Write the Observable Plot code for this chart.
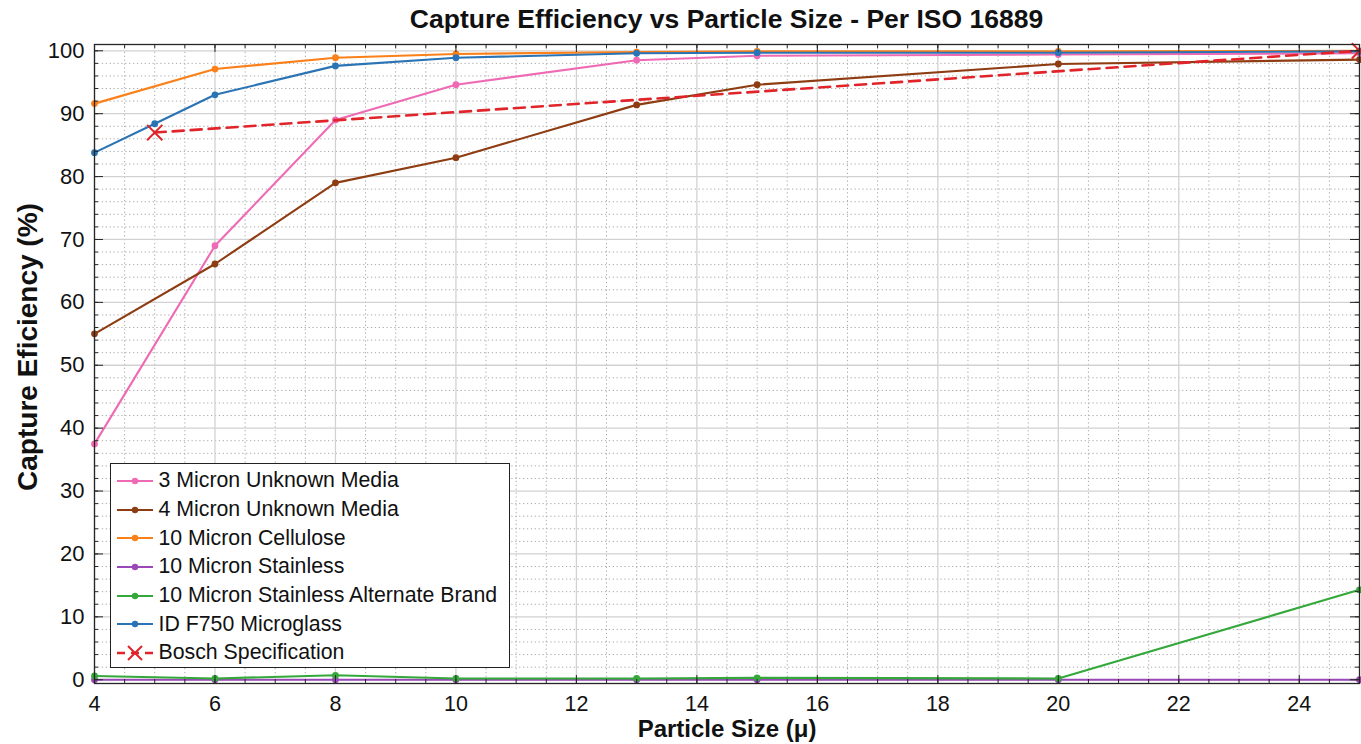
<!DOCTYPE html>
<html><head><meta charset="utf-8">
<script src="https://cdn.jsdelivr.net/npm/d3@7"></script>
<script src="https://cdn.jsdelivr.net/npm/@observablehq/plot@0.6"></script>
<style>
body{margin:0;background:#fff;font-family:"Liberation Sans",Arial,Helvetica,sans-serif;}
#wrap{position:relative;width:1361px;height:744px;overflow:hidden;background:#fff}
#title{position:absolute;left:94px;width:1265px;top:4px;text-align:center;font-weight:bold;font-size:26.5px;color:#111;white-space:nowrap}
#chart{position:absolute;left:0;top:36px}
#ylabel{position:absolute;left:28px;top:347px;transform:translate(-50%,-50%) rotate(-90deg);font-weight:bold;font-size:28px;color:#111;white-space:nowrap}
#legend{position:absolute;left:110px;top:463px;width:400px;height:205px;box-sizing:border-box;border:1.5px solid #222;background:#fff;padding-top:2.5px}
.row{display:flex;align-items:center;height:28.7px}
.row svg{margin-left:5.5px;flex:none}
.row span{margin-left:6px;font-size:21.3px;color:#111;white-space:nowrap}
</style></head>
<body>
<div id="wrap">
  <div id="title"></div>
  <div id="chart"></div>
  <div id="ylabel"></div>
  <div id="legend"></div>
</div>
<script>
// ---- data ----
const titleText = "Capture Efficiency vs Particle Size - Per ISO 16889";
const xLabel = "Particle Size (\u03bc)";
const yLabel = "Capture Eficiency (%)";
const xTicks = [4, 6, 8, 10, 12, 14, 16, 18, 20, 22, 24];
const yTicks = [0, 10, 20, 30, 40, 50, 60, 70, 80, 90, 100];

const sizes = [4, 6, 8, 10, 13, 15, 20, 25];
const micron3Unknown = [37.5, 69.0, 89.0, 94.6, 98.5, 99.2, 99.4, 99.6];
const micron4Unknown = [55.0, 66.1, 79.0, 83.0, 91.4, 94.6, 97.9, 98.6];
const micron10Cellulose = [91.6, 97.1, 98.9, 99.5, 99.8, 99.9, 99.9, 100.0];
const micron10Stainless = [0, 0, 0, 0, 0, 0, 0, 0];
const micron10StainlessAlt = [0.6, 0.2, 0.7, 0.2, 0.2, 0.3, 0.2, 14.3];
const microglassSizes = [4, 5, 6, 8, 10, 13, 15, 20, 25];
const microglassF750 = [83.8, 88.4, 93.0, 97.6, 98.9, 99.6, 99.7, 99.7, 99.9];
const boschSizes = [5, 25];
const boschSpec = [87.0, 100.0];

const seriesNames = ["3 Micron Unknown Media", "4 Micron Unknown Media", "10 Micron Cellulose",
  "10 Micron Stainless", "10 Micron Stainless Alternate Brand", "ID F750 Microglass", "Bosch Specification"];
const seriesColors = ["#ef6ab4", "#8e3c12", "#fb8019", "#9a48b8", "#34a83a", "#2a74b5", "#e0242a"];

// ---- build ----
const series = [
  {name: seriesNames[0], xs: sizes, ys: micron3Unknown},
  {name: seriesNames[1], xs: sizes, ys: micron4Unknown},
  {name: seriesNames[2], xs: sizes, ys: micron10Cellulose},
  {name: seriesNames[3], xs: sizes, ys: micron10Stainless},
  {name: seriesNames[4], xs: sizes, ys: micron10StainlessAlt},
  {name: seriesNames[5], xs: microglassSizes, ys: microglassF750},
  {name: seriesNames[6], xs: boschSizes, ys: boschSpec, dashed: true}
].map((s, i) => ({...s, color: seriesColors[i], rows: s.xs.map((x, j) => ({x, y: s.ys[j]}))}));

document.getElementById("title").textContent = titleText;
document.getElementById("ylabel").textContent = yLabel;

const W = 1361, H = 708, mt = 8, mb = 61, ml = 94, mr = 2;
const plotW = W - ml - mr, plotH = H - mt - mb;
const xMinor = d3.range(4, 25.001, 0.5);
const yMinor = d3.range(0, 101, 2);
const xMinorGrid = xMinor.filter(v => !xTicks.includes(v));
const yMinorGrid = yMinor.filter(v => !yTicks.includes(v));
const tickColor = "#262626";

const marks = [
  Plot.ruleX(xMinorGrid, {x: d => d, stroke: "#ababab", strokeDasharray: "1.3,2.6", strokeWidth: 1}),
  Plot.ruleY(yMinorGrid, {y: d => d, stroke: "#ababab", strokeDasharray: "1.3,2.6", strokeWidth: 1}),
  Plot.ruleX(xTicks, {x: d => d, stroke: "#d2d2d2", strokeWidth: 1.3}),
  Plot.ruleY(yTicks, {y: d => d, stroke: "#d2d2d2", strokeWidth: 1.3}),
];
for (const s of series) {
  marks.push(Plot.line(s.rows, {x: "x", y: "y", stroke: s.color, strokeWidth: s.dashed ? 2.6 : 2.1,
    strokeDasharray: s.dashed ? "11,7" : null}));
  if (s.dashed) {
    marks.push(Plot.dot(s.rows, {x: "x", y: "y", stroke: s.color, symbol: "times", r: 7, strokeWidth: 2}));
  } else {
    marks.push(Plot.dot(s.rows, {x: "x", y: "y", fill: s.color, r: 3.4}));
  }
}
marks.push(
  Plot.frame({stroke: tickColor, strokeWidth: 1.3}),
  // inward ticks (bottom/top)
  Plot.tickX(xMinor, {x: d => d, insetTop: plotH - 4, stroke: tickColor}),
  Plot.tickX(xTicks, {x: d => d, insetTop: plotH - 8, stroke: tickColor}),
  Plot.tickX(xMinor, {x: d => d, insetBottom: plotH - 4, stroke: tickColor}),
  Plot.tickX(xTicks, {x: d => d, insetBottom: plotH - 8, stroke: tickColor}),
  // inward ticks (left/right)
  Plot.tickY(yMinor, {y: d => d, insetRight: plotW - 4, stroke: tickColor}),
  Plot.tickY(yTicks, {y: d => d, insetRight: plotW - 9, stroke: tickColor}),
  Plot.tickY(yMinor, {y: d => d, insetLeft: plotW - 4, stroke: tickColor}),
  Plot.tickY(yTicks, {y: d => d, insetLeft: plotW - 9, stroke: tickColor}),
  Plot.axisX({ticks: xTicks, tickSize: 0, tickPadding: 12, fontSize: 21.5, label: null, tickFormat: d => String(d)}),
  Plot.axisY({ticks: yTicks, tickSize: 0, tickPadding: 10, fontSize: 22, label: null, tickFormat: d => String(d)}),
  Plot.text([xLabel], {frameAnchor: "bottom", dy: 53, text: d => d, fontWeight: "bold", fontSize: 24, fill: "#111"})
);

const chart = Plot.plot({
  width: W, height: H,
  marginTop: mt, marginBottom: mb, marginLeft: ml, marginRight: mr,
  x: {domain: [4, 25]},
  y: {domain: [-0.6, 101]},
  style: {fontFamily: '"Liberation Sans", Arial, Helvetica, sans-serif', color: "#111", background: "#fff", overflow: "hidden"},
  marks
});
document.getElementById("chart").append(chart);

// ---- legend ----
const legend = document.getElementById("legend");
for (const s of series) {
  const row = document.createElement("div");
  row.className = "row";
  const marker = s.dashed
    ? `<line x1="0" y1="8" x2="36" y2="8" stroke="${s.color}" stroke-width="2.4" stroke-dasharray="8,6"/>` +
      `<path d="M11,1 L25,15 M25,1 L11,15" stroke="${s.color}" stroke-width="2"/>`
    : `<line x1="0" y1="8" x2="36" y2="8" stroke="${s.color}" stroke-width="2.1"/>` +
      `<circle cx="18" cy="8" r="3.2" fill="${s.color}"/>`;
  row.innerHTML = `<svg width="36" height="16">${marker}</svg><span></span>`;
  row.querySelector("span").textContent = s.name;
  legend.append(row);
}
</script>
</body></html>
